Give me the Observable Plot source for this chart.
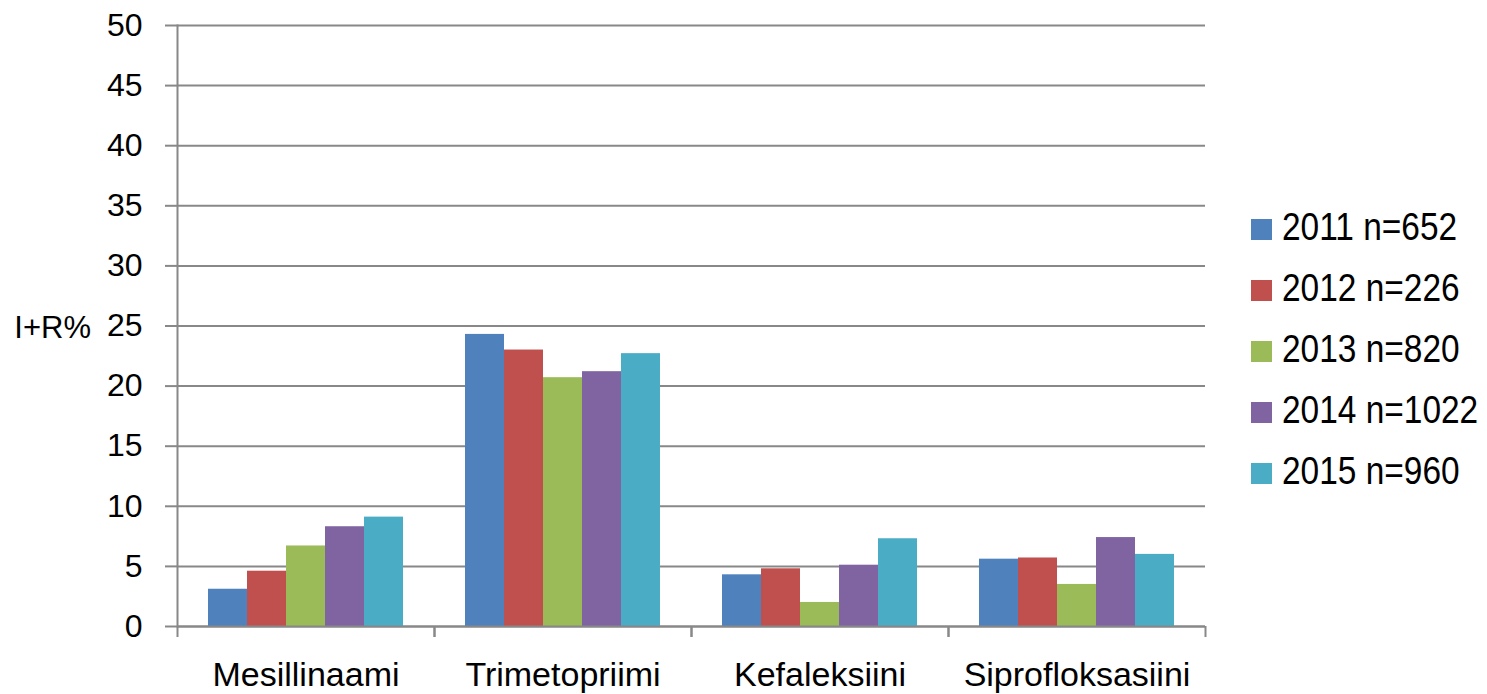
<!DOCTYPE html>
<html>
<head>
<meta charset="utf-8">
<script src="https://cdn.jsdelivr.net/npm/d3@7"></script>
<script src="https://cdn.jsdelivr.net/npm/@observablehq/plot@0.6"></script>
<style>
  body { margin: 0; background: #fff; font-family: "Liberation Sans", Arial, sans-serif; }
  #wrap { position: relative; width: 1487px; height: 694px; overflow: hidden; background: #fff; }
  #wrap svg { position: absolute; left: 0; top: 0; }
  #ylabel { position: absolute; left: 0; width: 91px; top: 312px; text-align: right; font-size: 31px; line-height: 1; color: #000; white-space: nowrap; }
  .lg-sw { position: absolute; left: 1251px; width: 21px; height: 21px; }
  .lg-tx { position: absolute; left: 1282px; font-size: 38px; line-height: 1; color: #000; white-space: nowrap; transform: scaleX(0.88); transform-origin: 0 0; }
</style>
</head>
<body>
<div id="wrap"></div>
<script>
// ---- data ----
const categories = ["Mesillinaami", "Trimetopriimi", "Kefaleksiini", "Siprofloksasiini"];
const years = ["2011", "2012", "2013", "2014", "2015"];
const seriesLabels = ["2011 n=652", "2012 n=226", "2013 n=820", "2014 n=1022", "2015 n=960"];
const v2011 = [3.1, 24.3, 4.3, 5.6];
const v2012 = [4.6, 23.0, 4.8, 5.7];
const v2013 = [6.7, 20.7, 2.0, 3.5];
const v2014 = [8.3, 21.2, 5.1, 7.4];
const v2015 = [9.1, 22.7, 7.3, 6.0];
const yTicks = [0, 5, 10, 15, 20, 25, 30, 35, 40, 45, 50];
const yLabel = "I+R%";
const colors = ["#4F81BD", "#C0504D", "#9BBB59", "#8064A2", "#4BACC6"];

const seriesValues = [v2011, v2012, v2013, v2014, v2015];
const data = [];
years.forEach((yr, i) => {
  categories.forEach((cat, j) => {
    data.push({category: cat, year: yr, value: seriesValues[i][j]});
  });
});

const gray = "#888888";
const halfBand = (1487 - 177 - 282) / categories.length / 2;

const chart = Plot.plot({
  width: 1487,
  height: 694,
  marginLeft: 177,
  marginRight: 282,
  marginTop: 25,
  marginBottom: 68,
  style: {fontFamily: "'Liberation Sans', Arial, sans-serif", color: "#000", background: "#fff", overflow: "visible"},
  fx: {domain: categories, padding: 0, axis: null, label: null},
  x: {domain: years, paddingInner: 0, paddingOuter: 0.75, axis: null, label: null},
  y: {domain: [0, 50], axis: null, label: null},
  color: {domain: years, range: colors},
  marks: [
    Plot.gridY(yTicks, {stroke: gray, strokeOpacity: 1, strokeWidth: 2}),
    Plot.barY(data, {fx: "category", x: "year", y: "value", fill: "year"}),
    Plot.ruleY([0], {stroke: gray, strokeWidth: 2}),
    Plot.frame({anchor: "left", facetAnchor: "left", stroke: gray, strokeWidth: 2}),
    Plot.axisY(yTicks, {tickSize: 12, tickPadding: 23, fontSize: 32, stroke: gray, strokeWidth: 2, fill: "#000", label: null}),
    Plot.axisFx({anchor: "bottom", tickSize: 0, tickPadding: 35, fontSize: 34, fill: "#000", label: null}),
    Plot.axisFx({anchor: "bottom", text: null, tickSize: 11, dx: -halfBand, stroke: gray, strokeWidth: 2, label: null}),
    Plot.axisFx({anchor: "bottom", text: null, tickSize: 11, dx: halfBand, stroke: gray, strokeWidth: 2, label: null})
  ]
});

const wrap = document.getElementById("wrap");
wrap.appendChild(chart);

const yl = document.createElement("div");
yl.id = "ylabel";
yl.textContent = yLabel;
wrap.appendChild(yl);

seriesLabels.forEach((lab, i) => {
  const sw = document.createElement("div");
  sw.className = "lg-sw";
  sw.style.top = (219 + 61 * i) + "px";
  sw.style.background = colors[i];
  wrap.appendChild(sw);
  const tx = document.createElement("div");
  tx.className = "lg-tx";
  tx.style.top = (208 + 61 * i) + "px";
  tx.textContent = lab;
  wrap.appendChild(tx);
});
</script>
</body>
</html>
